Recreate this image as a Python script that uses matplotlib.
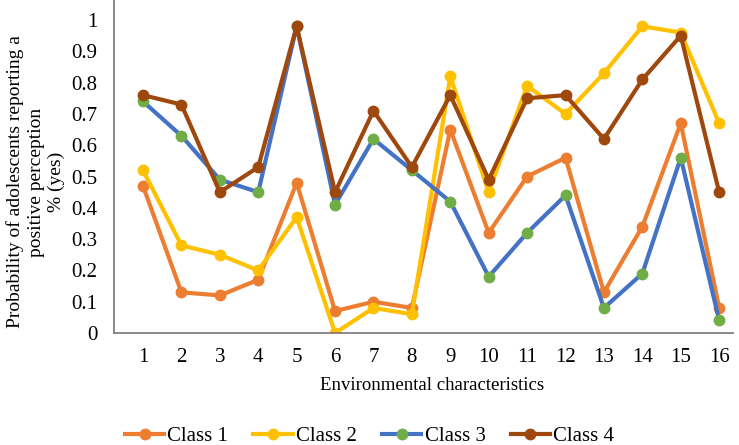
import matplotlib; matplotlib.use("Agg")
import matplotlib.pyplot as plt

plt.rcParams["font.family"] = ["Liberation Serif", "DejaVu Serif"]

CATS = list(range(1, 17))
CLASS1 = [0.47, 0.13, 0.12, 0.17, 0.48, 0.07, 0.10, 0.08, 0.65, 0.32, 0.50, 0.56, 0.13, 0.34, 0.67, 0.08]
CLASS2 = [0.52, 0.28, 0.25, 0.20, 0.37, 0.00, 0.08, 0.06, 0.82, 0.45, 0.79, 0.70, 0.83, 0.98, 0.96, 0.67]
CLASS3 = [0.74, 0.63, 0.49, 0.45, 0.98, 0.41, 0.62, 0.52, 0.42, 0.18, 0.32, 0.44, 0.08, 0.19, 0.56, 0.04]
CLASS4 = [0.76, 0.73, 0.45, 0.53, 0.98, 0.45, 0.71, 0.53, 0.76, 0.49, 0.75, 0.76, 0.62, 0.81, 0.95, 0.45]
YTICKS = [0, 0.1, 0.2, 0.3, 0.4, 0.5, 0.6, 0.7, 0.8, 0.9, 1]
YTICKLABELS = ["0", "0.1", "0.2", "0.3", "0.4", "0.5", "0.6", "0.7", "0.8", "0.9", "1"]

fig = plt.figure(figsize=(7.39, 4.45), dpi=100)
ax = fig.add_axes([114/739, 1 - 333/445, (733-114)/739, 333/445])

series = [("Class 1", CLASS1, "#ED7D31", "#ED7D31"),
          ("Class 2", CLASS2, "#FFC000", "#FFC000"),
          ("Class 3", CLASS3, "#4472C4", "#70AD47"),
          ("Class 4", CLASS4, "#9E480E", "#9E480E")]
for name, vals, lc, mc in series:
    ax.plot(CATS, vals, color=lc, lw=3.0, marker="o", ms=7.5,
            mfc=mc, mec=mc, label=name)

ax.set_xlim(0.245, 16.36)
ax.set_ylim(0, 1.064)
ax.set_xticks(CATS)
ax.set_yticks(YTICKS)
ax.set_yticklabels(YTICKLABELS)
ax.tick_params(axis="both", length=0, labelsize=15)
ax.tick_params(axis="y", pad=12)
ax.tick_params(axis="x", pad=11)
for s in ["top", "right"]:
    ax.spines[s].set_visible(False)
for s in ["left", "bottom"]:
    ax.spines[s].set_color("#808080")
    ax.spines[s].set_linewidth(1.3)

ax.set_xlabel("Environmental characteristics", fontsize=13.5)
ax.xaxis.set_label_coords((432-114)/619, -(386-333)/333)
ax.xaxis.label.set_va("center")
ax.set_ylabel("Probability of adolescents reporting a\npositive perception\n% (yes)",
              fontsize=14, linespacing=1.25, va="center")
ax.yaxis.set_label_coords((36-114)/619, (333-182)/333)

fig.legend(loc="center", bbox_to_anchor=(0.5, 1 - 436/445), ncol=4, frameon=False,
           fontsize=15, handlelength=1.9, columnspacing=1.2, handletextpad=0.15,
           borderpad=0)

fig.savefig("out.png", dpi=100)
